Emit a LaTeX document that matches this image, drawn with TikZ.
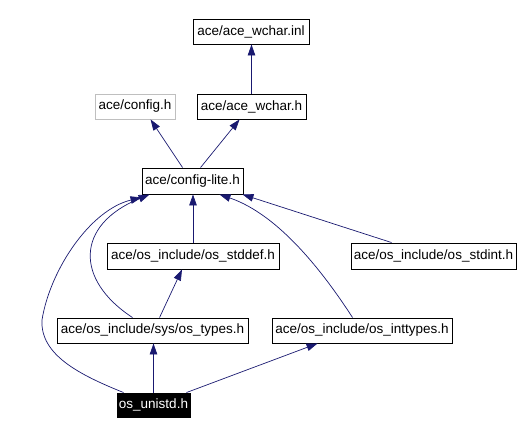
\documentclass[tikz,border=0pt]{standalone}
\usepackage{fontspec}
\setmainfont{Liberation Sans}
\usetikzlibrary{arrows.meta}
\definecolor{edgecol}{HTML}{191970}
\begin{document}
\begin{tikzpicture}[x=1pt,y=-1pt,
  box/.style={draw=black,line width=0.9pt,inner sep=0pt,font=\fontsize{13.5}{16}\selectfont,minimum height=25pt},
  graybox/.style={box,draw=black!25},
  selbox/.style={box,fill=black,text=white},
  edge/.style={draw=edgecol,line width=0.7pt,-{Triangle[length=11pt,width=7.5pt]}}]
\useasboundingbox (0,0) rectangle (531,435);
\node[box,minimum width=116pt] (inl) at (251,31.5) {ace/ace\_wchar.inl};
\node[graybox,minimum width=80pt] (config) at (135,106.5) {ace/config.h};
\node[box,minimum width=109pt] (wchar) at (251.5,106.5) {ace/ace\_wchar.h};
\node[box,minimum width=101pt,minimum height=26pt] (lite) at (192.5,181) {ace/config-lite.h};
\node[box,minimum width=172pt,minimum height=26pt] (stddef) at (193,256) {ace/os\_include/os\_stddef.h};
\node[box,minimum width=165pt,minimum height=26pt] (stdint) at (433.5,256) {ace/os\_include/os\_stdint.h};
\node[box,minimum width=191pt] (types) at (152.5,330.5) {ace/os\_include/sys/os\_types.h};
\node[box,minimum width=180pt] (inttypes) at (362,330.5) {ace/os\_include/os\_inttypes.h};
\node[selbox,minimum width=73pt,minimum height=24pt] (unistd) at (153.5,405) {os\_unistd.h};

\draw[edge] (wchar.north) -- (wchar.north |- inl.south);
\draw[edge] ([xshift=41pt]lite.north west) -- ([xshift=56pt]config.south west);
\draw[edge] ([xshift=59pt]lite.north west) -- ([xshift=43pt]wchar.south west);
\draw[edge] (stddef.north) -- (stddef.north |- lite.south);
\draw[edge] ([xshift=41pt]stdint.north west) -- ([xshift=-1pt]lite.south east);
\draw[edge] ([xshift=81pt]inttypes.north west) .. controls (325,275) and (280,215) .. ([xshift=-24pt]lite.south east);
\draw[edge] ([xshift=76pt]types.north west) .. controls (75,280) and (75,225) .. ([xshift=8pt]lite.south west);
\draw[edge] ([xshift=103pt]types.north west) -- ([xshift=-11pt]stddef.south);
\coordinate (bend) at (42,320);
\draw[edge] ([xshift=7pt]unistd.north west) .. controls (80,375) and (40,355) .. (bend) .. controls (50,270) and (90,210) .. ([yshift=-3pt]lite.south west);
\draw[edge] (unistd.north) -- (unistd.north |- types.south);
\draw[edge] ([xshift=-4pt]unistd.north east) -- ([xshift=46pt]inttypes.south west);
\end{tikzpicture}
\end{document}
